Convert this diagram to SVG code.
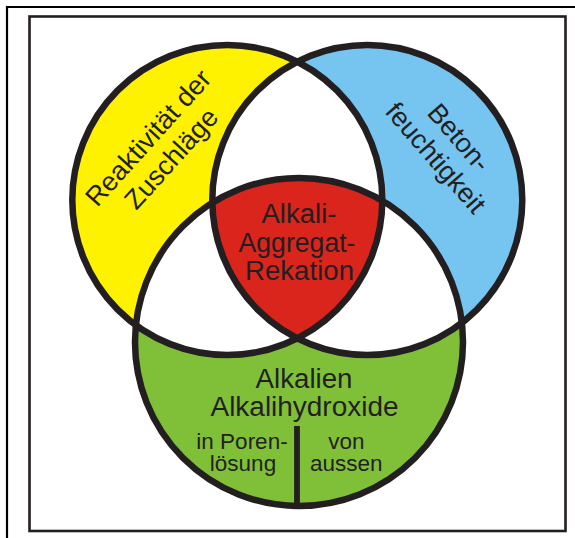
<svg xmlns="http://www.w3.org/2000/svg" width="575" height="538" viewBox="0 0 575 538">
<style>
.ol{fill:none;stroke:#231f20;stroke-width:6.5}
.t{font-family:"Liberation Sans",Arial,sans-serif;fill:#231f20;text-anchor:middle}
.big{font-size:27px}
.sm{font-size:22.5px}
</style>
<defs>
<clipPath id="cL"><circle cx="227.3" cy="200" r="155"/></clipPath>
<clipPath id="cR"><circle cx="367.3" cy="200" r="155"/></clipPath>
</defs>
<rect width="575" height="538" fill="#ffffff"/>
<g id="frame">
<path d="M7 538V7H575" fill="none" stroke="#000" stroke-width="2.2"/>
<rect x="29.5" y="16.5" width="536" height="514.5" fill="none" stroke="#231f20" stroke-width="2.6"/>
</g>
<g id="fills">
<circle cx="227.3" cy="200" r="155" fill="#fff200"/>
<circle cx="367.3" cy="200" r="155" fill="#75c5f0"/>
<circle cx="299" cy="342" r="164" fill="#80c038"/>
<circle cx="367.3" cy="200" r="155" fill="#ffffff" clip-path="url(#cL)"/>
<circle cx="299" cy="342" r="164" fill="#ffffff" clip-path="url(#cL)"/>
<circle cx="299" cy="342" r="164" fill="#ffffff" clip-path="url(#cR)"/>
<g clip-path="url(#cR)"><circle cx="299" cy="342" r="164" fill="#da251d" clip-path="url(#cL)"/></g>
</g>
<g id="connectors">
<circle class="ol" cx="227.3" cy="200" r="155"/>
<circle class="ol" cx="367.3" cy="200" r="155"/>
<circle class="ol" cx="299" cy="342" r="164"/>
<line x1="297" y1="426" x2="297" y2="505" stroke="#231f20" stroke-width="5.8"/>
</g>
<g id="reaktivitaet" transform="translate(155,144) rotate(-48)">
<text class="t big" x="0" y="0">Reaktivität der</text>
<text class="t big" x="0" y="31">Zuschläge</text>
</g>
<g id="betonfeuchtigkeit" transform="translate(452.2,143.5) rotate(49)">
<text class="t big" x="0" y="0">Beton-</text>
<text class="t big" x="0" y="31">feuchtigkeit</text>
</g>
<g id="aar">
<text class="t big" x="299" y="223" textLength="75" lengthAdjust="spacingAndGlyphs">Alkali-</text>
<text class="t big" x="297" y="251.5" textLength="117" lengthAdjust="spacingAndGlyphs">Aggregat-</text>
<text class="t big" x="299.5" y="279.5" textLength="109" lengthAdjust="spacingAndGlyphs">Rekation</text>
</g>
<g id="alkalien">
<text class="t big" x="304" y="388" textLength="97" lengthAdjust="spacingAndGlyphs">Alkalien</text>
<text class="t big" x="304.5" y="415.5" textLength="188" lengthAdjust="spacingAndGlyphs">Alkalihydroxide</text>
<text class="t sm" x="242" y="449">in Poren-</text>
<text class="t sm" x="243" y="470.5">lösung</text>
<text class="t sm" x="346.3" y="449">von</text>
<text class="t sm" x="346.3" y="470.5">aussen</text>
</g>
</svg>
